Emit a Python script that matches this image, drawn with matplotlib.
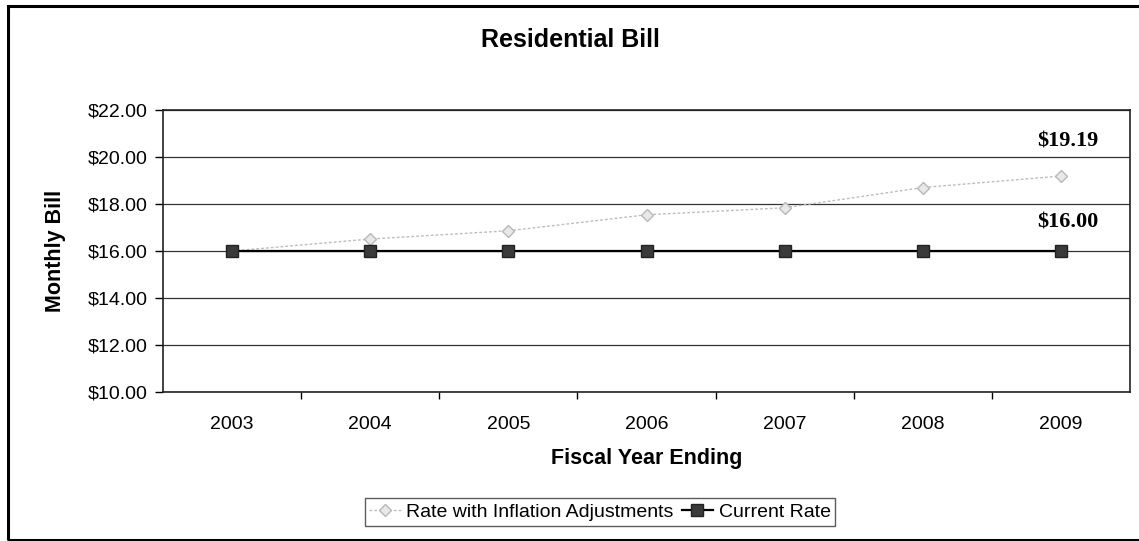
import matplotlib
matplotlib.use("Agg")
import matplotlib.pyplot as plt
from matplotlib.patches import Rectangle
from matplotlib.ticker import FuncFormatter, MultipleLocator

years = ["2003", "2004", "2005", "2006", "2007", "2008", "2009"]
inflation_rate = [16.00, 16.51, 16.86, 17.54, 17.84, 18.70, 19.19]
current_rate = [16.00, 16.00, 16.00, 16.00, 16.00, 16.00, 16.00]

plt.rcParams['font.family'] = ['Liberation Sans', 'DejaVu Sans']

fig = plt.figure(figsize=(11.39, 5.41), dpi=100)
ax = fig.add_axes([163 / 1139, 1 - 392 / 541, 967 / 1139, 282 / 541])

x = list(range(len(years)))
ax.plot(x, inflation_rate, color='#bdbdbd', lw=1.0, ls=(0, (2, 1.5)),
        marker='D', ms=6.5, mfc='#e8e8e8', mec='#b8b8b8', mew=1.0,
        label='Rate with Inflation Adjustments', zorder=3)
ax.plot(x, current_rate, color='black', lw=1.6,
        marker='s', ms=8, mfc='#3a3a3a', mec='#222222',
        label='Current Rate', zorder=4)

ax.annotate(f"${inflation_rate[-1]:.2f}", (x[-1], inflation_rate[-1]),
            xytext=(7, 35), textcoords='offset pixels', ha='center', va='center',
            family='Liberation Serif', fontweight='bold', fontsize=16)
ax.annotate(f"${current_rate[-1]:.2f}", (x[-1], current_rate[-1]),
            xytext=(7, 28), textcoords='offset pixels', ha='center', va='center',
            family='Liberation Serif', fontweight='bold', fontsize=16)

ax.set_xlim(-0.5, len(years) - 0.5)
ax.set_ylim(10, 22)
ax.yaxis.set_major_locator(MultipleLocator(2))
ax.yaxis.set_major_formatter(FuncFormatter(lambda v, p: f"${v:.2f}"))
ax.set_xticks(x)
ax.set_xticklabels(years)
ax.set_xticks([i + 0.5 for i in x[:-1]], minor=True)
ax.tick_params(axis='x', which='major', length=0, pad=17, labelsize=14)
ax.tick_params(axis='x', which='minor', length=5, direction='out', width=1)
ax.tick_params(axis='y', length=6, direction='out', width=1, labelsize=14, pad=5)
ax.grid(axis='y', color='#333333', lw=0.9)
ax.set_axisbelow(True)
for s in ax.spines.values():
    s.set_linewidth(1.2)
    s.set_color('#222222')

ax.set_xlabel("Fiscal Year Ending", fontweight='bold', fontsize=15.5, labelpad=11)
ax.set_ylabel("Monthly Bill", fontweight='bold', fontsize=15.5, labelpad=16)
fig.text(570 / 1139, 1 - 40 / 541, "Residential Bill", ha='center', va='center',
         fontweight='bold', fontsize=18)

leg = fig.legend(loc='center', bbox_to_anchor=(600 / 1139, 1 - 512 / 541), ncol=2,
                 fontsize=14, frameon=True, fancybox=False, edgecolor='#333333',
                 handlelength=1.6, columnspacing=0.4, handletextpad=0.3,
                 borderpad=0.25, borderaxespad=0)
leg.get_frame().set_linewidth(1.0)

fig.patches.append(Rectangle((8 / 1139, 1 / 541), 1.2, 1 - 6 / 541 - 1 / 541,
                             transform=fig.transFigure, fill=False,
                             edgecolor='black', lw=2.2))

fig.savefig("out.png", dpi=100)
